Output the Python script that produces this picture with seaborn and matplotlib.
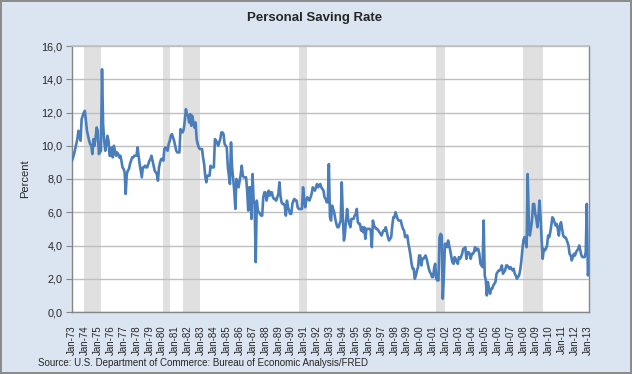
import matplotlib
matplotlib.use('Agg')
import matplotlib.pyplot as plt
import matplotlib.dates as mdates
from matplotlib.ticker import FuncFormatter, MultipleLocator
import pandas as pd
import seaborn as sns

# Personal saving rate (percent), monthly from Jan-1973, one row per year
rate_1970s = [
    9.1, 9.3, 9.5, 9.8, 10.1, 10.4, 10.9, 10.6, 10.3, 11.6, 11.8, 12.0,   # 1973
    12.1, 11.5, 10.9, 10.6, 10.3, 10.1, 10.0, 9.5, 10.4, 10.0, 10.5, 11.1,  # 1974
    10.9, 9.5, 9.6, 9.7, 14.6, 11.3, 10.3, 9.7, 10.1, 10.6, 10.3, 9.4,      # 1975
    9.4, 9.9, 9.3, 10.0, 9.7, 9.4, 9.6, 9.5, 9.3, 9.4, 9.1, 8.7,            # 1976
    8.6, 8.4, 7.1, 8.3, 8.5, 8.6, 8.9, 9.1, 9.3, 9.3, 9.4, 9.4,             # 1977
    9.4, 9.9, 9.4, 8.9, 8.5, 8.1, 8.7, 8.7, 8.8, 8.7, 8.7, 8.9,             # 1978
    9.1, 9.2, 9.4, 9.1, 8.8, 8.5, 8.4, 8.3, 7.9, 8.7, 9.0, 9.2,             # 1979
]
rate_1980s = [
    9.2, 9.1, 9.8, 9.9, 9.8, 9.7, 10.1, 10.3, 10.6, 10.7, 10.5, 10.3,       # 1980
    10.0, 9.7, 9.6, 9.6, 9.6, 11.0, 10.9, 10.8, 11.0, 11.5, 12.2, 11.9,     # 1981
    11.8, 11.4, 11.9, 11.2, 11.8, 11.4, 11.1, 11.4, 10.4, 10.1, 9.9, 9.8,   # 1982
    9.8, 9.8, 9.3, 8.9, 8.2, 7.8, 8.2, 8.2, 8.2, 8.8, 8.7, 8.7,             # 1983
    8.7, 10.4, 10.3, 10.2, 10.0, 10.2, 10.4, 10.8, 10.8, 10.7, 10.1, 10.0,  # 1984
    9.9, 8.7, 8.2, 7.7, 10.2, 8.7, 8.0, 7.3, 6.2, 8.0, 7.8, 7.5,            # 1985
    7.9, 8.3, 8.8, 8.2, 8.1, 8.1, 8.1, 7.3, 6.1, 7.5, 7.5, 5.6,             # 1986
    8.3, 6.7, 6.5, 3.0, 6.7, 6.1, 6.0, 5.9, 5.8, 5.8, 6.9, 7.2,             # 1987
    7.2, 6.7, 7.0, 7.3, 7.0, 7.2, 7.2, 6.9, 6.8, 6.8, 6.7, 6.9,             # 1988
    7.1, 7.8, 7.0, 6.6, 6.5, 6.5, 6.4, 5.8, 6.7, 6.3, 6.1, 5.9,             # 1989
]
rate_1990s = [
    5.9, 6.5, 6.7, 6.8, 6.7, 6.7, 6.3, 6.2, 6.2, 6.2, 6.2, 7.5,             # 1990
    6.8, 6.3, 6.7, 6.9, 6.8, 6.7, 6.9, 7.1, 7.5, 7.4, 7.3, 7.5,             # 1991
    7.7, 7.5, 7.6, 7.7, 7.5, 7.4, 7.3, 6.9, 6.8, 6.6, 6.6, 8.9,             # 1992
    5.7, 5.5, 6.4, 6.2, 6.0, 5.6, 5.3, 5.1, 5.1, 5.3, 5.5, 7.8,             # 1993
    5.7, 4.3, 4.7, 5.5, 6.2, 5.6, 5.3, 5.1, 5.6, 5.6, 5.6, 5.8,             # 1994
    5.9, 6.2, 5.4, 5.3, 5.3, 4.9, 5.1, 4.8, 5.1, 4.4, 5.0, 5.0,             # 1995
    5.0, 5.0, 4.9, 3.9, 5.5, 5.2, 5.1, 5.0, 5.0, 4.9, 4.8, 4.7,             # 1996
    4.6, 4.8, 4.9, 4.9, 5.1, 4.8, 4.5, 4.3, 4.4, 4.5, 5.2, 5.7,             # 1997
    5.7, 6.0, 5.8, 5.6, 5.5, 5.5, 5.5, 5.2, 5.0, 4.9, 4.5, 4.6,             # 1998
    4.6, 4.1, 3.8, 3.4, 2.9, 2.6, 2.6, 2.0, 2.2, 2.5, 2.7, 3.4,             # 1999
]
rate_2000s = [
    3.4, 2.8, 3.2, 3.2, 3.3, 3.4, 3.2, 2.9, 2.6, 2.4, 2.3, 2.1,             # 2000
    2.1, 2.7, 2.9, 2.0, 1.9, 1.9, 4.5, 4.7, 4.6, 0.8, 2.2, 4.1,             # 2001
    4.1, 3.9, 4.3, 4.0, 3.7, 3.3, 3.0, 2.9, 3.3, 3.2, 3.0, 2.9,             # 2002
    3.3, 3.2, 3.3, 3.5, 3.8, 3.8, 3.9, 3.2, 3.6, 3.6, 3.5, 3.2,             # 2003
    3.5, 3.5, 3.6, 3.9, 3.7, 3.8, 3.8, 3.5, 2.9, 2.8, 2.7, 5.5,             # 2004
    2.2, 1.9, 1.0, 1.8, 1.4, 1.1, 1.4, 1.4, 1.6, 1.7, 1.8, 2.3,             # 2005
    2.4, 2.5, 2.5, 2.6, 2.8, 2.3, 2.4, 2.5, 2.8, 2.8, 2.7, 2.6,             # 2006
    2.7, 2.6, 2.5, 2.6, 2.3, 2.2, 2.0, 2.1, 2.2, 2.5, 3.0, 3.7,             # 2007
    4.3, 4.5, 4.2, 3.9, 8.3, 5.7, 4.6, 5.0, 5.5, 6.5, 6.5, 5.9,             # 2008
    5.6, 5.1, 5.8, 6.7, 5.7, 4.3, 3.2, 3.8, 3.7, 3.8, 4.0, 4.6,             # 2009
]
rate_2010s = [
    4.5, 4.8, 5.2, 5.7, 5.6, 5.4, 5.2, 5.3, 5.0, 4.6, 5.2, 5.4,             # 2010
    5.0, 4.6, 4.5, 4.5, 4.4, 4.2, 4.0, 3.5, 3.4, 3.1, 3.3, 3.5,             # 2011
    3.4, 3.6, 3.7, 3.8, 4.0, 3.7, 3.4, 3.3, 3.3, 3.3, 3.6, 6.5,             # 2012
    2.2, 2.6,                                                               # 2013
]

# recession shading: first recession month, month after the trough
rec_start = ['1973-12-01', '1980-02-01', '1981-08-01', '1990-08-01', '2001-04-01', '2008-01-01']
rec_end = ['1975-04-01', '1980-08-01', '1982-12-01', '1991-04-01', '2001-12-01', '2009-07-01']

rate = rate_1970s + rate_1980s + rate_1990s + rate_2000s + rate_2010s
df = pd.DataFrame({'date': pd.date_range('1973-01-01', periods=len(rate), freq='MS'),
                   'rate': rate})

sns.set_theme(style='white')
plt.rcParams['font.family'] = ['Liberation Sans', 'DejaVu Sans']

fig = plt.figure(figsize=(6.32, 3.74), dpi=100, facecolor='#dbe5f1',
                 edgecolor='#8c8c8c', linewidth=1.5)
ax = fig.add_axes([72 / 632, 1 - 312 / 374, 517 / 632, 266 / 374])
ax.set_facecolor('white')

for s, e in zip(rec_start, rec_end):
    ax.axvspan(pd.Timestamp(s), pd.Timestamp(e), color='#e0e0e0', lw=0, zorder=0)

sns.lineplot(data=df, x='date', y='rate', ax=ax, color='#4a7ebb', linewidth=1.9, zorder=3)

ax.set_xlim(df['date'].iloc[0], df['date'].iloc[-1])
ax.set_ylim(0, 16)
ax.yaxis.set_major_locator(MultipleLocator(2))
ax.yaxis.set_major_formatter(FuncFormatter(lambda v, p: f'{v:.1f}'.replace('.', ',')))
ax.xaxis.set_major_locator(mdates.YearLocator(1, month=1, day=1))
ax.xaxis.set_major_formatter(mdates.DateFormatter('%b-%y'))
ax.yaxis.grid(True, color='#bfbfbf', linewidth=1.0)

ax.tick_params(axis='y', left=True, length=4, width=0.8, color='#868686',
               labelsize=7.8, pad=3)
ax.tick_params(axis='x', bottom=False, labelsize=7.0, pad=3.5, labelrotation=90)
for lbl in ax.get_xticklabels():
    lbl.set_family(['Liberation Sans Narrow', 'Liberation Sans'])

for side in ['left', 'bottom', 'right']:
    ax.spines[side].set_color('#868686')
    ax.spines[side].set_linewidth(1.0)
ax.spines['top'].set_color('#bfbfbf')

ax.set_xlabel('')
ax.set_ylabel('Percent', fontsize=8, labelpad=8)

fig.text(0.497, 1 - 18 / 374, 'Personal Saving Rate', ha='center', va='center',
         fontsize=9.5, fontweight='bold')
fig.text(38 / 632, 1 - 363 / 374,
         'Source: U.S. Department of Commerce: Bureau of Economic Analysis/FRED',
         ha='left', va='center', fontsize=7)

fig.savefig('out.png', dpi=100, facecolor=fig.get_facecolor(), edgecolor=fig.get_edgecolor())
